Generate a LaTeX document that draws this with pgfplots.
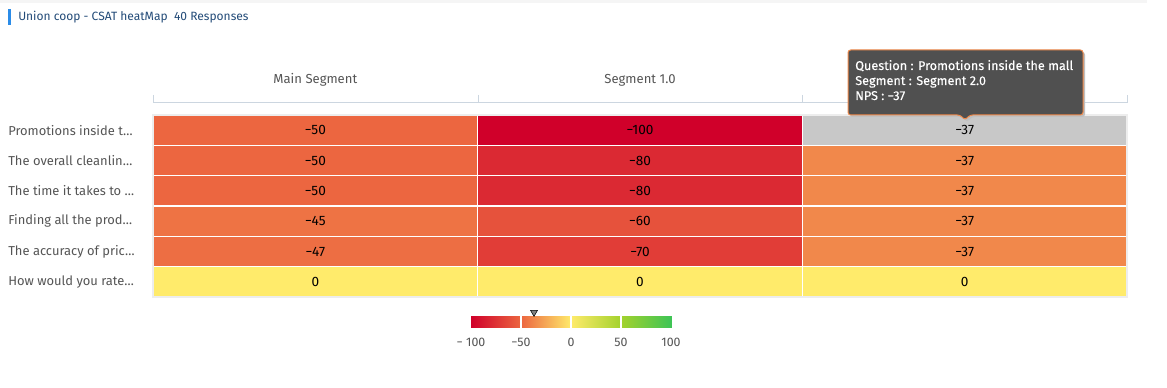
\documentclass[border=0pt]{standalone}
\usepackage{fontspec}
\setmainfont{Fira Sans}
\newfontfamily\tipfont[FakeBold=0.35]{Fira Sans}
\usepackage{pgfplots}
\pgfplotsset{compat=1.18}
\usepackage{pgfplotstable}
\definecolor{titlebar}{RGB}{43,140,232}
\definecolor{titletext}{RGB}{35,75,120}
\definecolor{labgray}{RGB}{85,85,85}
\definecolor{bracket}{RGB}{204,214,224}
\definecolor{hovergray}{RGB}{200,200,200}
\definecolor{tipbg}{RGB}{80,80,80}
\definecolor{tipborder}{RGB}{240,138,75}
\pgfplotsset{colormap={nps}{rgb255(0cm)=(208,0,42) rgb255(1cm)=(236,102,64) rgb255(2cm)=(255,235,107) rgb255(3cm)=(163,210,45) rgb255(4cm)=(62,196,85)}}

\pgfplotstableread{
x y v lab
0 0 0 0
1 0 0 0
2 0 0 0
0 1 -47 −47
1 1 -70 −70
2 1 -37 −37
0 2 -45 −45
1 2 -60 −60
2 2 -37 −37
0 3 -50 −50
1 3 -80 −80
2 3 -37 −37
0 4 -50 −50
1 4 -80 −80
2 4 -37 −37
0 5 -50 −50
1 5 -100 −100
2 5 -37 −37
}\heat

\begin{document}
\begin{tikzpicture}[x=0.75pt,y=0.75pt]
\fill[white] (0,0) rectangle (1167,388);
\fill[black!4] (0,385) rectangle (1147,388);
\fill[titlebar] (8,363) rectangle (11,379);
\node[anchor=base west, inner sep=0pt, text=titletext, font=\fontsize{9}{10}\selectfont] at (18,367) {Union coop - CSAT heatMap\ \ 40 Responses};
\coordinate (HM) at (153,91);
\coordinate (CB) at (471,60);

\begin{axis}[at={(HM)}, anchor=south west, scale only axis,
  width=730.5pt, height=136.5pt,
  xmin=-0.5, xmax=2.5, ymin=-0.5, ymax=5.5,
  colormap name=nps, point meta min=-100, point meta max=100,
  axis line style={draw=black!7, line width=1.2pt},
  xtick={0,1,2}, xticklabels={Main Segment, Segment 1.0, Segment 2.0},
  xticklabel pos=upper,
  xticklabel style={anchor=base, inner sep=0pt, yshift=23.25pt, font=\fontsize{9.8}{11}\selectfont, text=labgray},
  ytick={0,1,2,3,4,5},
  yticklabels={How would you rate…, The accuracy of pric…, Finding all the prod…, The time it takes to …, The overall cleanlin…, Promotions inside t…},
  yticklabel style={anchor=west, inner sep=0pt, xshift=-108.75pt, font=\fontsize{9.7}{11}\selectfont, text=labgray},
  major tick length=0pt, minor tick length=0pt,
  minor xtick={0.5,1.5}, minor ytick={0.5,1.5,2.5,3.5,4.5},
  xminorgrids, yminorgrids, minor grid style={white, line width=1.2pt},
  axis on top, clip=false]
\addplot[matrix plot*, mesh/cols=3, point meta=explicit] table[x=x,y=y,meta=v]{\heat};
\addplot[fill=hovergray, draw=none] coordinates {(1.5,4.5) (2.5,4.5) (2.5,5.5) (1.5,5.5)} -- cycle;
\addplot[only marks, mark=none, point meta=explicit symbolic, nodes near coords, nodes near coords align=center,
  nodes near coords style={font=\fontsize{10.2}{11}\selectfont, text=black, anchor=center}] table[x=x,y=y,meta=lab]{\heat};
\end{axis}

\begin{axis}[at={(CB)}, anchor=south west, scale only axis,
  width=150pt, height=9pt,
  xmin=-100, xmax=100, ymin=0, ymax=1,
  colormap name=nps, point meta min=-100, point meta max=100,
  axis line style={draw=none}, ytick=\empty,
  xtick={-100,-50,0,50,100}, xticklabels={− 100,−50,0,50,100},
  xticklabel style={anchor=base, inner sep=0pt, yshift=-14pt, font=\fontsize{9.3}{10}\selectfont, text=labgray},
  major tick length=0pt, minor tick length=0pt,
  minor xtick={-50,0,50}, xminorgrids, minor grid style={white, line width=1pt},
  axis on top, clip=false]
\addplot[patch, patch type=rectangle, shader=interp, point meta=x] coordinates {
(-100,0) (-50,0) (-50,1) (-100,1)
(-50,0) (0,0) (0,1) (-50,1)
(0,0) (50,0) (50,1) (0,1)
(50,0) (100,0) (100,1) (50,1)};
\addplot[only marks, mark=triangle*, mark size=3pt, mark options={rotate=180, fill=gray, draw=none}] coordinates {(-37,1.3)};
\end{axis}

\draw[bracket, line width=0.75pt] (153,293) -- (153,285) -- (1127,285) -- (1127,293);
\draw[bracket, line width=0.75pt] (478,293) -- (478,285) (802,293) -- (802,285);

\fill[black!25, rounded corners=2pt] (850,336) -- (1085,336) -- (1085,271) -- (972,271) -- (967,266) -- (962,271) -- (850,271) -- cycle;
\draw[fill=tipbg, draw=tipborder, line width=0.75pt, rounded corners=2pt] (848,338) -- (1083,338) -- (1083,273) -- (970,273) -- (965,268) -- (960,273) -- (848,273) -- cycle;
\node[anchor=base west, inner sep=0pt, text=white, font=\tipfont\fontsize{9.5}{10}\selectfont] at (855,318) {Question : Promotions inside the mall};
\node[anchor=base west, inner sep=0pt, text=white, font=\tipfont\fontsize{9.5}{10}\selectfont] at (855,303) {Segment : Segment 2.0};
\node[anchor=base west, inner sep=0pt, text=white, font=\tipfont\fontsize{9.5}{10}\selectfont] at (855,288) {NPS : −37};

\pgfresetboundingbox
\path[use as bounding box] (0,0) rectangle (1167,388);
\end{tikzpicture}
\end{document}
